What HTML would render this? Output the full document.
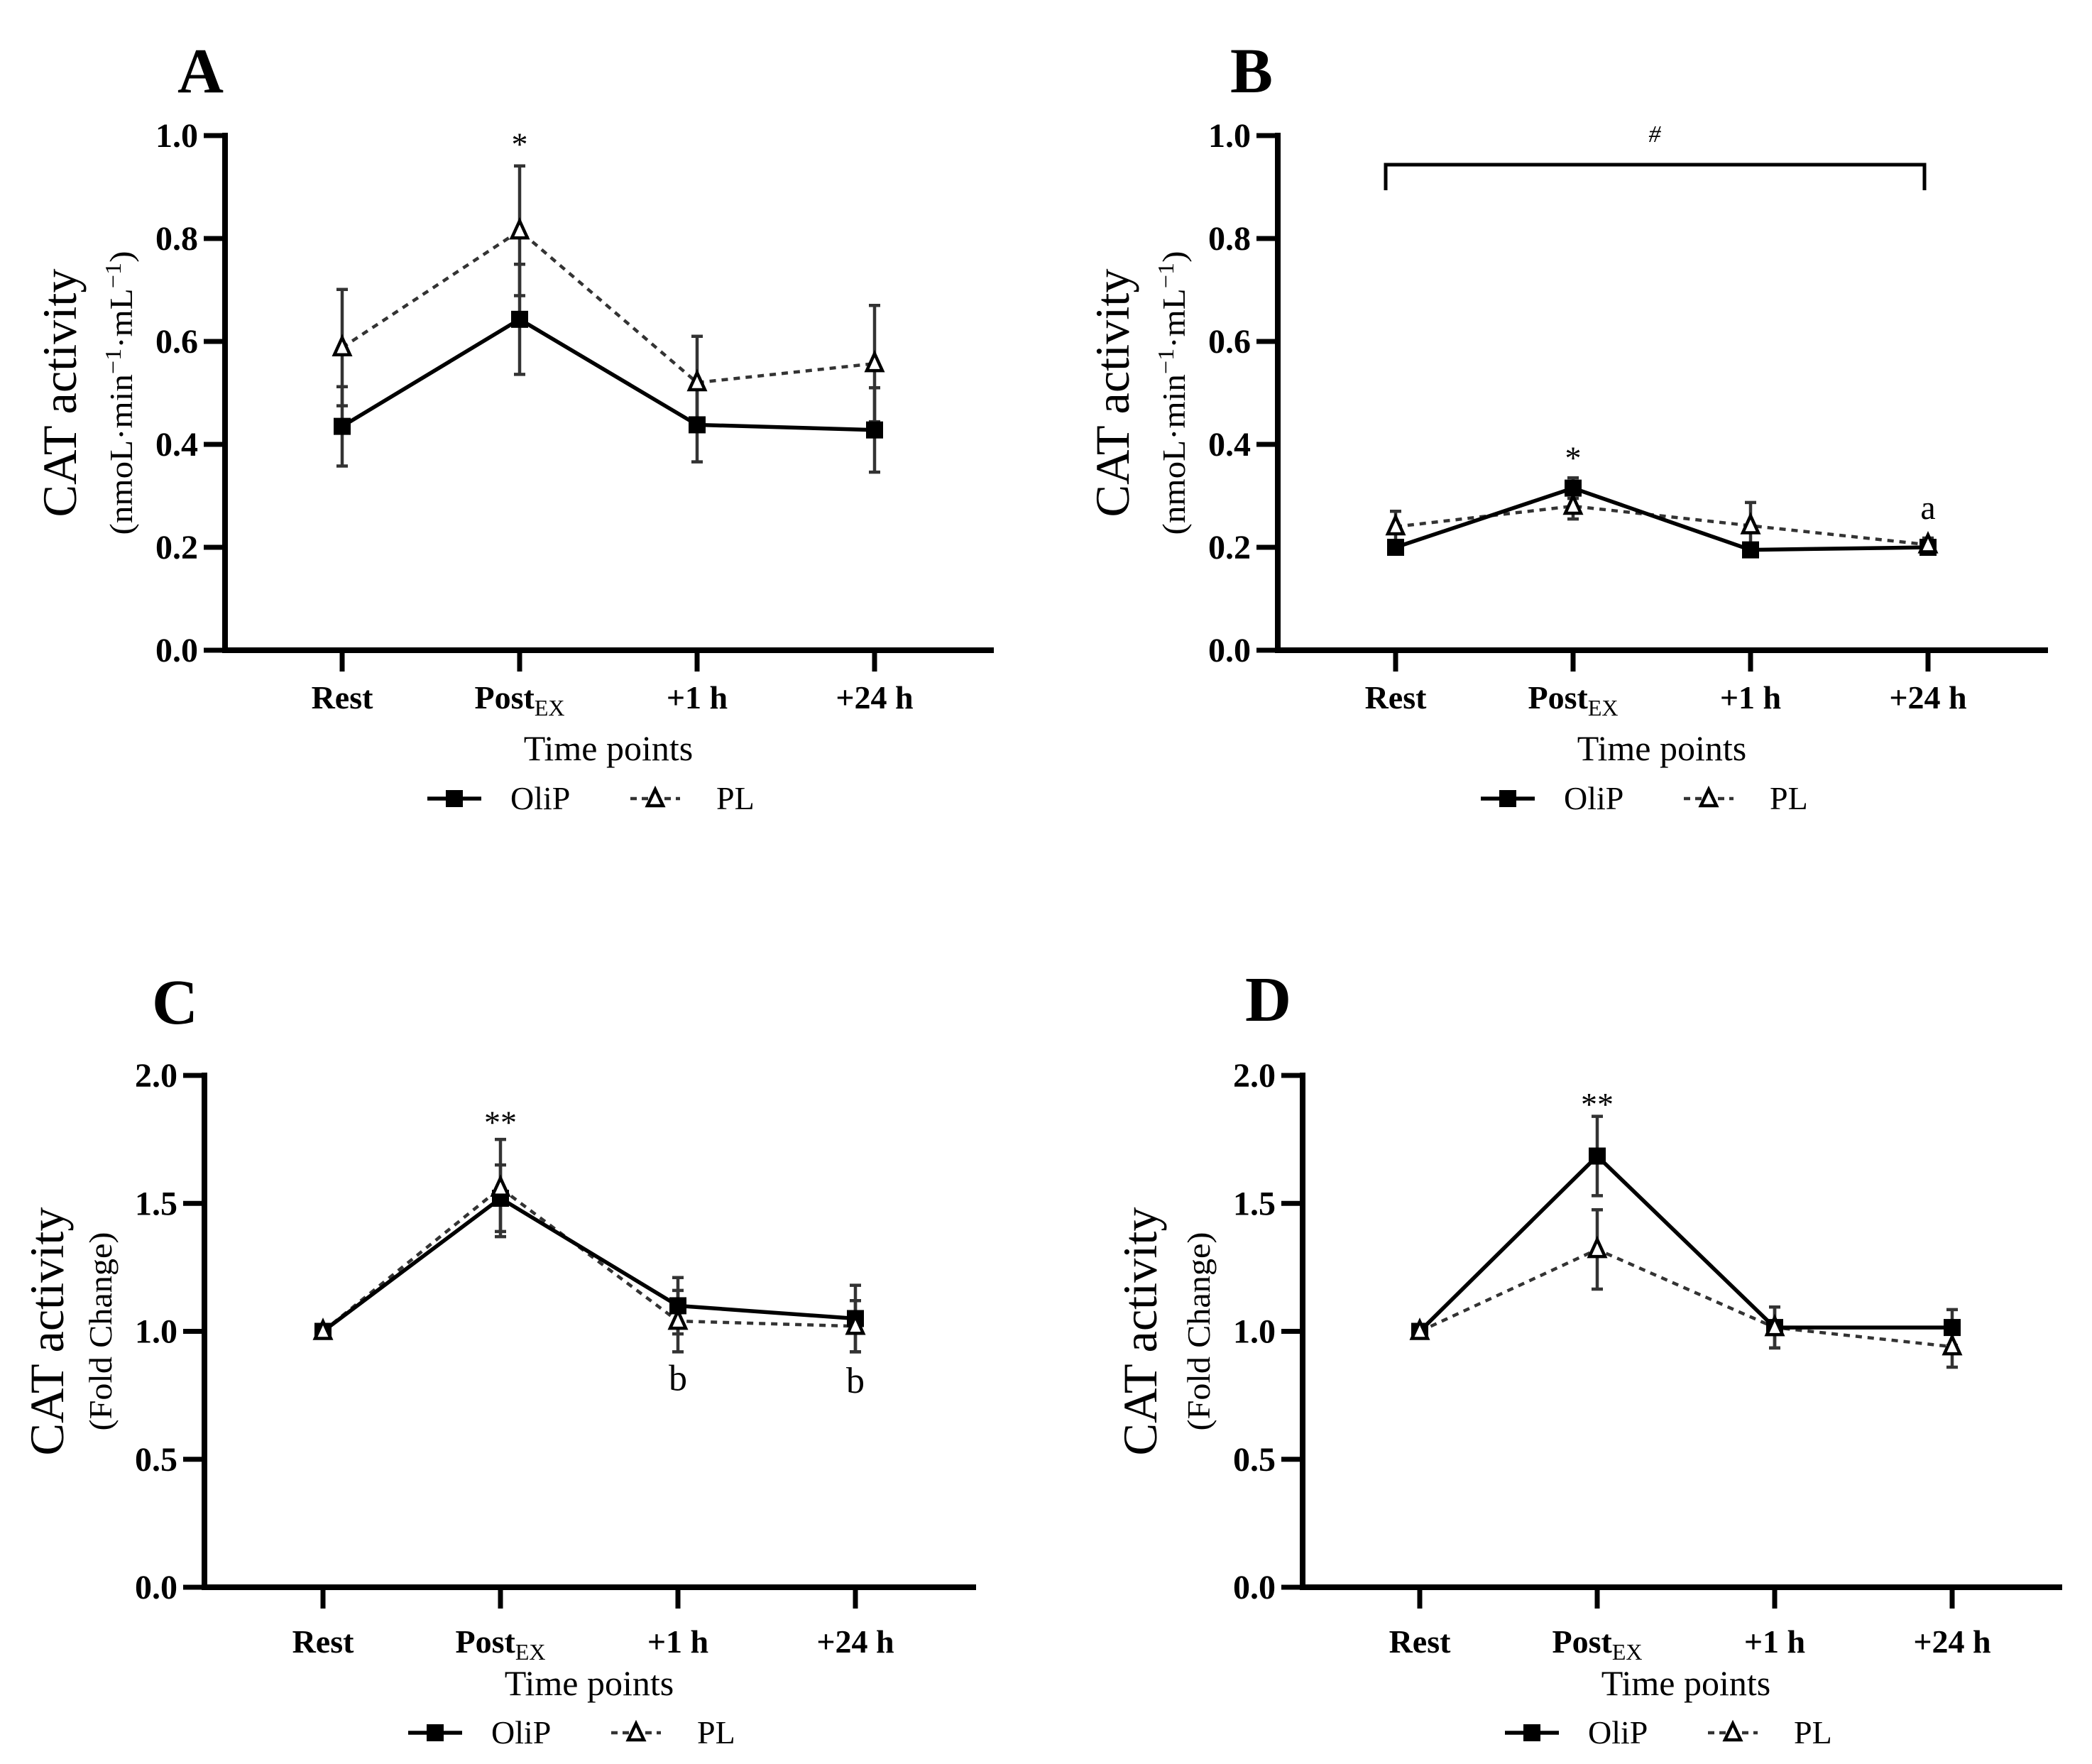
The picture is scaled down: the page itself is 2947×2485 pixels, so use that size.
<!DOCTYPE html>
<html><head><meta charset="utf-8">
<style>
html,body{margin:0;padding:0;background:#fff;}
svg{display:block;font-family:"Liberation Serif",serif;}
</style></head>
<body>
<svg id="fig" width="2947" height="2485" viewBox="0 0 2947 2485" xmlns="http://www.w3.org/2000/svg"></svg>
<script>
const categories = ["Rest","Post","+1 h","+24 h"];
const ticksAB = [0,0.2,0.4,0.6,0.8,1.0];
const tickLabelsAB = ["0.0","0.2","0.4","0.6","0.8","1.0"];
const ticksCD = [0,0.5,1.0,1.5,2.0];
const tickLabelsCD = ["0.0","0.5","1.0","1.5","2.0"];
const aOliP = [0.435,0.643,0.438,0.428];
const aOliPErr = [0.077,0.107,0.072,0.082];
const aPL = [0.588,0.815,0.520,0.557];
const aPLErr = [0.113,0.126,0.090,0.113];
const bOliP = [0.200,0.315,0.195,0.200];
const bOliPErr = [0.013,0.020,0.013,0.013];
const bPL = [0.240,0.280,0.242,0.205];
const bPLErr = [0.030,0.025,0.045,0.013];
const cOliP = [1.00,1.52,1.10,1.05];
const cOliPErr = [0.00,0.13,0.11,0.13];
const cPL = [1.00,1.56,1.04,1.02];
const cPLErr = [0.00,0.19,0.12,0.10];
const dOliP = [1.00,1.685,1.015,1.015];
const dOliPErr = [0.00,0.155,0.08,0.07];
const dPL = [1.00,1.32,1.015,0.94];
const dPLErr = [0.00,0.155,0.08,0.08];

const NS="http://www.w3.org/2000/svg";
const svg=document.getElementById('fig');
function mk(tag,attrs,parent){const e=document.createElementNS(NS,tag);for(const k in attrs)e.setAttribute(k,attrs[k]);(parent||svg).appendChild(e);return e;}

const panels=[
 {id:'a',letter:'A',lx:250,ly:130,ax:317,y0:916,y1:191,ymax:1.0,xs:482,xend:1400,ticks:ticksAB,tl:tickLabelsAB,
  oli:aOliP,oliE:aOliPErr,pl:aPL,plE:aPLErr,sub:'rate',tlY:998,tpY:1071,legY:1125,ann:[{t:'*',i:1,v:0.99,s:46}]},
 {id:'b',letter:'B',lx:1733,ly:130,ax:1800,y0:916,y1:191,ymax:1.0,xs:1966,xend:2885,ticks:ticksAB,tl:tickLabelsAB,
  oli:bOliP,oliE:bOliPErr,pl:bPL,plE:bPLErr,sub:'rate',tlY:998,tpY:1071,legY:1125,ann:[{t:'*',i:1,v:0.38,s:46},{t:'a',i:3,v:0.255,s:48,plain:true}],bracket:true},
 {id:'c',letter:'C',lx:214,ly:1442,ax:288,y0:2236,y1:1515,ymax:2.0,xs:455,xend:1375,ticks:ticksCD,tl:tickLabelsCD,
  oli:cOliP,oliE:cOliPErr,pl:cPL,plE:cPLErr,sub:'fold',tlY:2328,tpY:2388,legY:2441,ann:[{t:'**',i:1,v:1.83,s:46},{t:'b',i:2,v:0.77,s:52,plain:true},{t:'b',i:3,v:0.76,s:52,plain:true}]},
 {id:'d',letter:'D',lx:1754,ly:1438,ax:1835,y0:2236,y1:1515,ymax:2.0,xs:2000,xend:2905,ticks:ticksCD,tl:tickLabelsCD,
  oli:dOliP,oliE:dOliPErr,pl:dPL,plE:dPLErr,sub:'fold',tlY:2328,tpY:2388,legY:2441,ann:[{t:'**',i:1,v:1.90,s:46}]}
];

panels.forEach(p=>{
  const g=mk('g',{});
  
  
  const ys=v=>p.y0-(v/p.ymax)*(p.y0-p.y1);
  const xs=i=>p.xs+i*250;
  const L=mk('text',{x:p.lx,y:p.ly,'font-size':90,'font-weight':'bold'},g);L.textContent=p.letter;
  
  
  const ya=mk('line',{x1:p.ax,y1:p.y1-4,x2:p.ax,y2:p.y0+4,stroke:'#000','stroke-width':8},g);
  
  
  const xa=mk('line',{x1:p.ax-4,y1:p.y0,x2:p.xend,y2:p.y0,stroke:'#000','stroke-width':8},g);
  
  
  p.ticks.forEach((t,k)=>{
    const y=ys(t);
    mk('line',{x1:p.ax-30,y1:y,x2:p.ax,y2:y,stroke:'#000','stroke-width':7},g);
    const tx=mk('text',{x:p.ax-38,y:y+16,'font-size':48,'font-weight':'bold','text-anchor':'end'},g);
    tx.textContent=p.tl[k];
    
    
  });
  categories.forEach((c,i)=>{
    const x=xs(i);
    mk('line',{x1:x,y1:p.y0,x2:x,y2:p.y0+30,stroke:'#000','stroke-width':7},g);
    const tx=mk('text',{x:x,y:p.tlY,'font-size':46,'font-weight':'bold','text-anchor':'middle'},g);
    
    
    if(c==='Post'){tx.textContent='Post';const s=mk('tspan',{'font-size':32,'font-weight':'normal',dy:10},tx);s.textContent='EX';}
    else tx.textContent=c;
  });
  const tp=mk('text',{x:p.xs+375,y:p.tpY,'font-size':50,'text-anchor':'middle'},g);
  tp.textContent='Time points';
  
  
  const cy=(p.y0+p.y1)/2;
  const t1x=p.ax-(p.id==='c'?221:p.id==='d'?228:232);
  const yt=mk('text',{x:0,y:0,'font-size':68,'text-anchor':'middle',transform:`translate(${t1x+22},${cy}) rotate(-90)`,textLength:350,lengthAdjust:'spacingAndGlyphs'},g);
  yt.textContent='CAT activity';
  
  
  const st=mk('text',{x:0,y:0,'font-size':46,'text-anchor':'middle',transform:`translate(${p.ax-147+16},${cy}) rotate(-90)`},g);
  
  
  if(p.sub==='fold'){st.textContent='(Fold Change)';st.setAttribute('textLength',280);st.setAttribute('lengthAdjust','spacingAndGlyphs');}
  else{
    st.setAttribute('textLength',400);st.setAttribute('lengthAdjust','spacingAndGlyphs');
    st.appendChild(document.createTextNode('(nmoL·min'));
    const s1=mk('tspan',{dy:-16,'font-size':32},st);s1.textContent='−1';
    const s2=mk('tspan',{dy:16},st);s2.textContent='·mL';
    const s3=mk('tspan',{dy:-16,'font-size':32},st);s3.textContent='−1';
    const s4=mk('tspan',{dy:16},st);s4.textContent=')';
  }
  if(p.bracket){
    const br=mk('path',{d:`M${xs(0)-14} 268 V232 H${xs(3)-5} V268`,fill:'none',stroke:'#000','stroke-width':5},g);
    
    
    const h=mk('text',{x:(xs(0)+xs(3))/2-10,y:200,'font-size':34,'text-anchor':'middle','font-style':'italic'},g);h.textContent='#';
    
    
  }
  function errs(vals,es,name){
    vals.forEach((v,i)=>{
      if(es[i]<=0)return;
      const x=xs(i),a=ys(v+es[i]),b=ys(v-es[i]);
      const eb=mk('path',{d:`M${x} ${a} V${b} M${x-8} ${a} H${x+8} M${x-8} ${b} H${x+8}`,stroke:'#333','stroke-width':4.5,fill:'none'},g);
      
      
    });
  }
  errs(p.pl,p.plE,'pl');errs(p.oli,p.oliE,'olip');
  const plPts=p.pl.map((v,i)=>xs(i)+','+ys(v)).join(' ');
  const pll=mk('polyline',{points:plPts,fill:'none',stroke:'#333','stroke-width':4.5,'stroke-dasharray':'9 8'},g);
  
  
  const olPts=p.oli.map((v,i)=>xs(i)+','+ys(v)).join(' ');
  const oll=mk('polyline',{points:olPts,fill:'none',stroke:'#000','stroke-width':5.5},g);
  
  
  p.oli.forEach((v,i)=>{
    const r=mk('rect',{x:xs(i)-12,y:ys(v)-12,width:24,height:24,fill:'#000'},g);
    
    
  });
  p.pl.forEach((v,i)=>{
    const x=xs(i),y=ys(v);
    const t=mk('path',{d:`M${x} ${y-14} L${x+11} ${y+10} L${x-11} ${y+10} Z`,fill:'#fff',stroke:'#000','stroke-width':4.5},g);
    
    
  });
  p.ann.forEach(a=>{
    const t=mk('text',{x:xs(a.i),y:ys(a.v)+(a.plain?0:20),'font-size':a.s,'text-anchor':'middle'},g);
    t.textContent=a.t;
    
    
  });
  const lg=mk('g',{},g);
  
  
  const base=p.xs+120, ly=p.legY;
  mk('line',{x1:base,y1:ly,x2:base+76,y2:ly,stroke:'#000','stroke-width':5.5},lg);
  mk('rect',{x:base+26,y:ly-12,width:24,height:24,fill:'#000'},lg);
  const t1=mk('text',{x:base+117,y:ly+15,'font-size':46},lg);t1.textContent='OliP';
  
  
  const b2=base+286;
  mk('line',{x1:b2,y1:ly,x2:b2+70,y2:ly,stroke:'#333','stroke-width':4.5,'stroke-dasharray':'9 7'},lg);
  mk('path',{d:`M${b2+35} ${ly-13} L${b2+46} ${ly+10} L${b2+24} ${ly+10} Z`,fill:'#fff',stroke:'#000','stroke-width':4.5},lg);
  const t2=mk('text',{x:b2+121,y:ly+15,'font-size':46},lg);t2.textContent='PL';
  
  
});
</script>
</body></html>
